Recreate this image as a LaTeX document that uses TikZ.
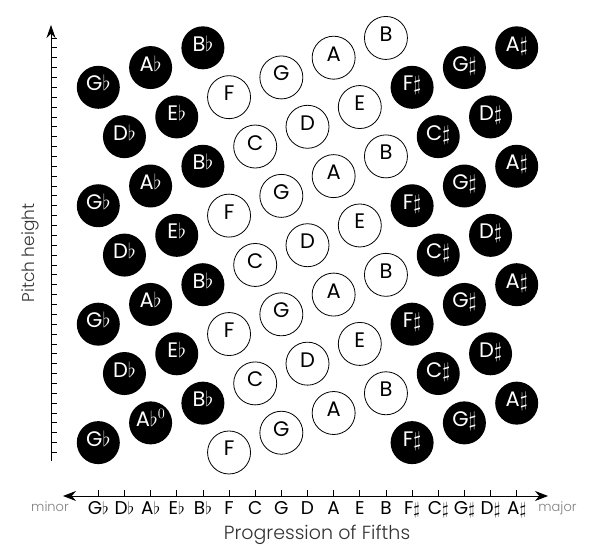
\documentclass[tikz,border=0pt]{standalone}
\usepackage{fontspec}
\setmainfont{Poppins}
\newfontfamily\thinfont{Poppins Light}
\usepackage{tikz}
\usetikzlibrary{
    arrows.meta
}
\tikzset{
    key/.style={circle, minimum size=43pt, inner sep=0pt, text height=0.7em, text depth=0pt,
        font=\fontsize{21}{21}\selectfont},
    dark/.style={key, fill=black, text=white},
    light/.style={key, draw=black, line width=0.8pt},
    axlabel/.style={anchor=base, font=\fontsize{18.5}{18.5}\selectfont},
    endlabel/.style={anchor=base, text=black!50, font=\thinfont\fontsize{13}{13}\selectfont},
    axis/.style={line width=0.9pt, {Stealth[length=13pt,width=10pt]}-{Stealth[length=13pt,width=10pt]}}
}
\newcommand{\fl}{\ensuremath{\flat}}
\newcommand{\sh}{\ensuremath{\sharp}}

\begin{document}
\begin{tikzpicture}[x=1pt, y=1pt]
        \useasboundingbox (0,0) rectangle (614,553);

        % axes
        \coordinate (hl) at (63,57);
        \coordinate (hr) at (548,57);
        \coordinate (vb) at (51,92);
        \coordinate (vt) at (51,528);
        \draw[axis] (hl) -- (hr);
        \draw[axis, {Stealth[length=13pt,width=9pt]}-] (vt) -- (vb);
        \foreach \p in {0,...,42}
            \draw[line width=0.8pt] (51,100.5+9.87*\p) -- ++(5.5,0);

        % keys, one column per fifth
        \foreach \nm/\off/\kind [count=\i from 0] in {G\fl/1/dark, D\fl/8/dark, A\fl/3/dark, E\fl/10/dark,
                B\fl/5/dark, F/0/light, C/7/light, G/2/light, D/9/light, A/4/light, E/11/light, B/6/light,
                F\sh/1/dark, C\sh/8/dark, G\sh/3/dark, D\sh/10/dark, A\sh/5/dark}{
            \pgfmathsetmacro\cx{98.3+26.15*\i}
            \draw[line width=0.8pt] (\cx,57) -- (\cx,63);
            \draw (\cx,38) node[axlabel](ax\i){\nm};
            \foreach \k in {0,...,3}{
                \pgfmathtruncatemacro\p{\off+12*\k}
                \ifnum\p<43
                    \ifnum\i\k=20 \def\lbl{A$\flat^{0}$}\else\def\lbl{\nm}\fi
                    \draw (\cx,100.5+9.87*\p) node[\kind](n\i-\k){\lbl};
                \fi
            }
        }

        \draw (50,41.5) node[endlabel](minor){minor};
        \draw (557.5,41.5) node[endlabel](major){major};
        \draw (317,13) node[anchor=base, text=black!80, font=\thinfont\fontsize{19}{19}\selectfont](fifths){Progression of Fifths};
        \draw (30,300) node[rotate=90, text=black!80, font=\thinfont\fontsize{17}{17}\selectfont](pitch){Pitch height};
    \end{tikzpicture}
\end{document}
